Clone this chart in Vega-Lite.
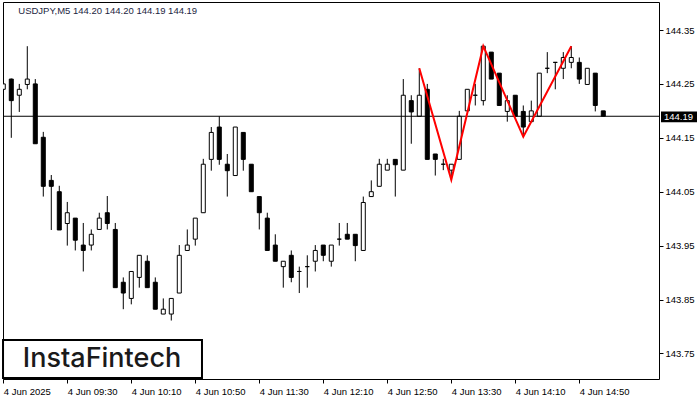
{
  "$schema": "https://vega.github.io/schema/vega-lite/v6.json",
  "width": 656,
  "height": 377,
  "autosize": {"type": "none"},
  "padding": {"left": 3, "top": 2, "right": 41, "bottom": 21},
  "background": "white",
  "config": {
    "view": {"stroke": "black", "strokeWidth": 1},
    "axis": {"labelFont": "Liberation Sans", "labelFontSize": 9.5, "labelColor": "black", "tickColor": "black", "domain": false, "grid": false, "tickSize": 4}
  },
  "datasets": {
    "candles": [
      {"t": "2025-06-04T08:50:00Z", "o": 144.240, "h": 144.270, "l": 144.228, "c": 144.250},
      {"t": "2025-06-04T08:55:00Z", "o": 144.259, "h": 144.260, "l": 144.150, "c": 144.219},
      {"t": "2025-06-04T09:00:00Z", "o": 144.229, "h": 144.250, "l": 144.198, "c": 144.240},
      {"t": "2025-06-04T09:05:00Z", "o": 144.249, "h": 144.320, "l": 144.240, "c": 144.259},
      {"t": "2025-06-04T09:10:00Z", "o": 144.250, "h": 144.259, "l": 144.139, "c": 144.139},
      {"t": "2025-06-04T09:15:00Z", "o": 144.151, "h": 144.161, "l": 144.041, "c": 144.060},
      {"t": "2025-06-04T09:20:00Z", "o": 144.071, "h": 144.081, "l": 143.979, "c": 144.060},
      {"t": "2025-06-04T09:25:00Z", "o": 144.050, "h": 144.061, "l": 143.979, "c": 143.979},
      {"t": "2025-06-04T09:30:00Z", "o": 143.991, "h": 144.031, "l": 143.950, "c": 144.011},
      {"t": "2025-06-04T09:35:00Z", "o": 144.001, "h": 144.001, "l": 143.941, "c": 143.960},
      {"t": "2025-06-04T09:40:00Z", "o": 143.951, "h": 143.992, "l": 143.902, "c": 143.941},
      {"t": "2025-06-04T09:45:00Z", "o": 143.951, "h": 143.980, "l": 143.941, "c": 143.971},
      {"t": "2025-06-04T09:50:00Z", "o": 143.980, "h": 144.011, "l": 143.980, "c": 144.001},
      {"t": "2025-06-04T09:55:00Z", "o": 144.011, "h": 144.042, "l": 143.980, "c": 143.991},
      {"t": "2025-06-04T10:00:00Z", "o": 143.980, "h": 143.992, "l": 143.872, "c": 143.872},
      {"t": "2025-06-04T10:05:00Z", "o": 143.882, "h": 143.891, "l": 143.832, "c": 143.862},
      {"t": "2025-06-04T10:10:00Z", "o": 143.852, "h": 143.902, "l": 143.841, "c": 143.902},
      {"t": "2025-06-04T10:15:00Z", "o": 143.891, "h": 143.932, "l": 143.872, "c": 143.932},
      {"t": "2025-06-04T10:20:00Z", "o": 143.921, "h": 143.932, "l": 143.872, "c": 143.872},
      {"t": "2025-06-04T10:25:00Z", "o": 143.882, "h": 143.891, "l": 143.832, "c": 143.832},
      {"t": "2025-06-04T10:30:00Z", "o": 143.823, "h": 143.852, "l": 143.823, "c": 143.832},
      {"t": "2025-06-04T10:35:00Z", "o": 143.823, "h": 143.852, "l": 143.811, "c": 143.852},
      {"t": "2025-06-04T10:40:00Z", "o": 143.862, "h": 143.951, "l": 143.862, "c": 143.932},
      {"t": "2025-06-04T10:45:00Z", "o": 143.941, "h": 143.980, "l": 143.941, "c": 143.951},
      {"t": "2025-06-04T10:50:00Z", "o": 143.962, "h": 144.001, "l": 143.950, "c": 144.001},
      {"t": "2025-06-04T10:55:00Z", "o": 144.011, "h": 144.111, "l": 144.011, "c": 144.101},
      {"t": "2025-06-04T11:00:00Z", "o": 144.110, "h": 144.170, "l": 144.089, "c": 144.160},
      {"t": "2025-06-04T11:05:00Z", "o": 144.170, "h": 144.190, "l": 144.100, "c": 144.110},
      {"t": "2025-06-04T11:10:00Z", "o": 144.101, "h": 144.120, "l": 144.041, "c": 144.089},
      {"t": "2025-06-04T11:15:00Z", "o": 144.080, "h": 144.170, "l": 144.080, "c": 144.170},
      {"t": "2025-06-04T11:20:00Z", "o": 144.160, "h": 144.160, "l": 144.089, "c": 144.110},
      {"t": "2025-06-04T11:25:00Z", "o": 144.101, "h": 144.101, "l": 144.050, "c": 144.050},
      {"t": "2025-06-04T11:30:00Z", "o": 144.041, "h": 144.041, "l": 143.980, "c": 144.011},
      {"t": "2025-06-04T11:35:00Z", "o": 144.001, "h": 144.011, "l": 143.941, "c": 143.941},
      {"t": "2025-06-04T11:40:00Z", "o": 143.951, "h": 143.971, "l": 143.921, "c": 143.921},
      {"t": "2025-06-04T11:45:00Z", "o": 143.911, "h": 143.921, "l": 143.872, "c": 143.921},
      {"t": "2025-06-04T11:50:00Z", "o": 143.932, "h": 143.941, "l": 143.882, "c": 143.891},
      {"t": "2025-06-04T11:55:00Z", "o": 143.902, "h": 143.911, "l": 143.862, "c": 143.902},
      {"t": "2025-06-04T12:00:00Z", "o": 143.911, "h": 143.932, "l": 143.872, "c": 143.911},
      {"t": "2025-06-04T12:05:00Z", "o": 143.921, "h": 143.951, "l": 143.902, "c": 143.941},
      {"t": "2025-06-04T12:10:00Z", "o": 143.951, "h": 143.951, "l": 143.921, "c": 143.932},
      {"t": "2025-06-04T12:15:00Z", "o": 143.921, "h": 143.951, "l": 143.911, "c": 143.951},
      {"t": "2025-06-04T12:20:00Z", "o": 143.962, "h": 143.992, "l": 143.950, "c": 143.962},
      {"t": "2025-06-04T12:25:00Z", "o": 143.971, "h": 143.992, "l": 143.962, "c": 143.962},
      {"t": "2025-06-04T12:30:00Z", "o": 143.971, "h": 143.971, "l": 143.921, "c": 143.950},
      {"t": "2025-06-04T12:35:00Z", "o": 143.941, "h": 144.041, "l": 143.941, "c": 144.030},
      {"t": "2025-06-04T12:40:00Z", "o": 144.041, "h": 144.071, "l": 144.041, "c": 144.050},
      {"t": "2025-06-04T12:45:00Z", "o": 144.060, "h": 144.111, "l": 144.060, "c": 144.101},
      {"t": "2025-06-04T12:50:00Z", "o": 144.090, "h": 144.111, "l": 144.090, "c": 144.101},
      {"t": "2025-06-04T12:55:00Z", "o": 144.110, "h": 144.110, "l": 144.041, "c": 144.100},
      {"t": "2025-06-04T13:00:00Z", "o": 144.090, "h": 144.259, "l": 144.090, "c": 144.229},
      {"t": "2025-06-04T13:05:00Z", "o": 144.219, "h": 144.229, "l": 144.139, "c": 144.198},
      {"t": "2025-06-04T13:10:00Z", "o": 144.190, "h": 144.279, "l": 144.190, "c": 144.229},
      {"t": "2025-06-04T13:15:00Z", "o": 144.240, "h": 144.250, "l": 144.110, "c": 144.110},
      {"t": "2025-06-04T13:20:00Z", "o": 144.120, "h": 144.120, "l": 144.080, "c": 144.110},
      {"t": "2025-06-04T13:25:00Z", "o": 144.101, "h": 144.111, "l": 144.090, "c": 144.101},
      {"t": "2025-06-04T13:30:00Z", "o": 144.090, "h": 144.101, "l": 144.072, "c": 144.101},
      {"t": "2025-06-04T13:35:00Z", "o": 144.110, "h": 144.200, "l": 144.110, "c": 144.190},
      {"t": "2025-06-04T13:40:00Z", "o": 144.200, "h": 144.240, "l": 144.200, "c": 144.240},
      {"t": "2025-06-04T13:45:00Z", "o": 144.229, "h": 144.250, "l": 144.210, "c": 144.229},
      {"t": "2025-06-04T13:50:00Z", "o": 144.219, "h": 144.320, "l": 144.210, "c": 144.320},
      {"t": "2025-06-04T13:55:00Z", "o": 144.309, "h": 144.309, "l": 144.259, "c": 144.259},
      {"t": "2025-06-04T14:00:00Z", "o": 144.270, "h": 144.270, "l": 144.210, "c": 144.210},
      {"t": "2025-06-04T14:05:00Z", "o": 144.199, "h": 144.229, "l": 144.180, "c": 144.219},
      {"t": "2025-06-04T14:10:00Z", "o": 144.229, "h": 144.229, "l": 144.190, "c": 144.190},
      {"t": "2025-06-04T14:15:00Z", "o": 144.199, "h": 144.210, "l": 144.152, "c": 144.170},
      {"t": "2025-06-04T14:20:00Z", "o": 144.180, "h": 144.219, "l": 144.180, "c": 144.200},
      {"t": "2025-06-04T14:25:00Z", "o": 144.190, "h": 144.270, "l": 144.190, "c": 144.270},
      {"t": "2025-06-04T14:30:00Z", "o": 144.279, "h": 144.309, "l": 144.270, "c": 144.279},
      {"t": "2025-06-04T14:35:00Z", "o": 144.290, "h": 144.290, "l": 144.240, "c": 144.290},
      {"t": "2025-06-04T14:40:00Z", "o": 144.279, "h": 144.309, "l": 144.259, "c": 144.299},
      {"t": "2025-06-04T14:45:00Z", "o": 144.290, "h": 144.320, "l": 144.279, "c": 144.299},
      {"t": "2025-06-04T14:50:00Z", "o": 144.290, "h": 144.299, "l": 144.250, "c": 144.259},
      {"t": "2025-06-04T14:55:00Z", "o": 144.249, "h": 144.279, "l": 144.249, "c": 144.279},
      {"t": "2025-06-04T15:00:00Z", "o": 144.270, "h": 144.270, "l": 144.199, "c": 144.210},
      {"t": "2025-06-04T15:05:00Z", "o": 144.200, "h": 144.200, "l": 144.190, "c": 144.190}
    ],
    "zigzag": [
      {"t": "2025-06-04T13:10:00Z", "p": 144.279},
      {"t": "2025-06-04T13:30:00Z", "p": 144.072},
      {"t": "2025-06-04T13:50:00Z", "p": 144.320},
      {"t": "2025-06-04T14:15:00Z", "p": 144.152},
      {"t": "2025-06-04T14:45:00Z", "p": 144.320}
    ]
  },
  "layer": [
    {
      "data": {"name": "candles"},
      "mark": {"type": "rule", "color": "black", "strokeWidth": 1, "clip": true},
      "encoding": {
        "x": {"field": "t", "type": "temporal", "title": null,
          "scale": {"type": "utc", "padding": 0, "domain": [1749026989000, 1749051589000]},
          "axis": {
            "values": [1749027000000, 1749029400000, 1749031800000, 1749034200000, 1749036600000, 1749039000000, 1749041400000, 1749043800000, 1749046200000, 1749048600000],
            "labelExpr": "utcFormat(datum.value, '%H:%M') == '08:50' ? '4 Jun 2025' : '4 Jun ' + utcFormat(datum.value, '%H:%M')",
            "labelAlign": "left", "labelPadding": 3, "labelFlush": false, "labelOverlap": false, "labelBound": false
          }
        },
        "y": {"field": "l", "type": "quantitative", "title": null,
          "scale": {"domain": [143.7025, 144.402], "nice": false, "zero": false, "padding": 0},
          "axis": {"orient": "right", "values": [143.75, 143.85, 143.95, 144.05, 144.15, 144.25, 144.35], "format": ".2f", "labelPadding": 2, "labelBaseline": "middle"}
        },
        "y2": {"field": "h"}
      }
    },
    {
      "data": {"name": "candles"},
      "mark": {"type": "bar", "width": 4, "stroke": "black", "strokeWidth": 1, "clip": true},
      "encoding": {
        "x": {"field": "t", "type": "temporal", "title": null},
        "y": {"field": "o", "type": "quantitative", "title": null},
        "y2": {"field": "c"},
        "fill": {"condition": {"test": "datum.c < datum.o", "value": "black"}, "value": "white"}
      }
    },
    {
      "data": {"values": [{}]},
      "mark": {"type": "rule", "color": "black", "strokeWidth": 1},
      "encoding": {"y": {"datum": 144.19, "type": "quantitative"}}
    },
    {
      "data": {"name": "zigzag"},
      "mark": {"type": "line", "color": "#ff0000", "strokeWidth": 2},
      "encoding": {
        "x": {"field": "t", "type": "temporal", "title": null},
        "y": {"field": "p", "type": "quantitative", "title": null}
      }
    },
    {
      "data": {"values": [{}]},
      "mark": {"type": "rect", "fill": "white", "stroke": "black", "strokeWidth": 2},
      "encoding": {
        "x": {"datum": 1749026990000, "type": "temporal"},
        "x2": {"datum": 1749034451000},
        "y": {"datum": 143.775, "type": "quantitative"},
        "y2": {"datum": 143.7044}
      }
    },
    {
      "data": {"values": [{}]},
      "mark": {"type": "text", "text": "InstaFintech", "font": "Inter", "fontSize": 27, "fontWeight": 500, "color": "#1a1a1a", "align": "center", "baseline": "middle"},
      "encoding": {
        "x": {"datum": 1749030703000, "type": "temporal"},
        "y": {"datum": 143.740, "type": "quantitative"}
      }
    },
    {
      "data": {"values": [{}]},
      "mark": {"type": "text", "text": "USDJPY,M5  144.20 144.20 144.19 144.19", "font": "Liberation Sans", "fontSize": 9.5, "color": "#1c2541", "align": "left", "baseline": "middle"},
      "encoding": {
        "x": {"datum": 1749027562000, "type": "temporal"},
        "y": {"datum": 144.385, "type": "quantitative"}
      }
    },
    {
      "data": {"values": [{}]},
      "mark": {"type": "rect", "fill": "black"},
      "encoding": {
        "x": {"datum": 1749051664000, "type": "temporal"},
        "x2": {"datum": 1749053014000},
        "y": {"datum": 144.199, "type": "quantitative"},
        "y2": {"datum": 144.179}
      }
    },
    {
      "data": {"values": [{}]},
      "mark": {"type": "text", "text": "144.19", "font": "Liberation Sans", "fontSize": 9.5, "color": "white", "align": "left", "baseline": "middle"},
      "encoding": {
        "x": {"datum": 1749051775000, "type": "temporal"},
        "y": {"datum": 144.189, "type": "quantitative"}
      }
    }
  ]
}
